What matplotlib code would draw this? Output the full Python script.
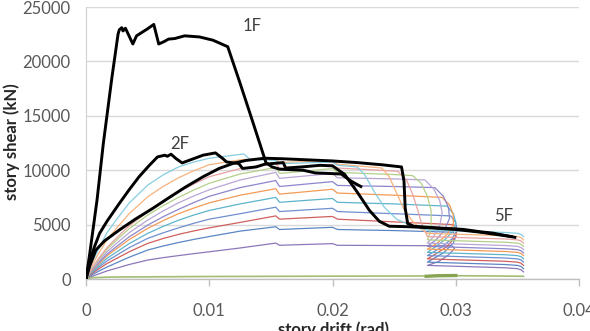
import matplotlib
matplotlib.use("Agg")
import matplotlib.pyplot as plt

plt.rcParams['font.family'] = ['Lato', 'DejaVu Sans']

# ---- axis ticks ----
x_ticks = [0, 0.01, 0.02, 0.03, 0.04]
x_tick_labels = ['0', '0.01', '0.02', '0.03', '0.04']
y_ticks = [0, 5000, 10000, 15000, 20000, 25000]
y_tick_labels = ['0', '5000', '10000', '15000', '20000', '25000']

# ---- highlighted floors (black) ----
drift_1F = [0, 0.0003, 0.0009, 0.0014, 0.0021, 0.0026, 0.0027, 0.0029, 0.0030, 0.0032, 0.0038, 0.0041,
            0.0050, 0.0055, 0.0059, 0.0063, 0.0067, 0.0072, 0.0080, 0.0092, 0.0103, 0.0115,
            0.0125, 0.0136, 0.0146, 0.0151, 0.0157, 0.0166, 0.0176, 0.0186, 0.0197, 0.0207,
            0.0215, 0.0223]
shear_1F = [0, 2300, 7300, 12400, 18500, 22500, 22900, 23100, 22800, 23050, 21600, 22350,
            23000, 23400, 21600, 21800, 22050, 22100, 22350, 22250, 21950, 21350,
            18000, 14200, 10700, 10300, 10100, 10050, 10000, 9750, 9700, 9650,
            9000, 8500]

drift_2F = [0, 0.0002, 0.0004, 0.0007, 0.0011, 0.0017, 0.0027, 0.0035, 0.0043, 0.0051, 0.0058,
            0.0064, 0.0066, 0.0069, 0.0073, 0.0078,
            0.0084, 0.0095, 0.0105, 0.0111, 0.0114, 0.0124, 0.0127, 0.0138, 0.0145, 0.0160,
            0.0162, 0.0175, 0.0190, 0.0200, 0.0210, 0.0220, 0.0230, 0.0238, 0.0246, 0.0263,
            0.0280, 0.0300, 0.0320, 0.0345]
shear_2F = [0, 1100, 2000, 3000, 4190, 5300, 6940, 8200, 9390, 10400, 11220,
            11380, 11280, 11470, 11070, 10670,
            10920, 11380, 11590, 11070, 10760, 10610, 10160, 10300, 10550, 10700,
            10200, 10300, 10450, 10400, 9600, 8000, 6300, 5300, 4850, 4800,
            4700, 4550, 4300, 3900]

drift_5F = [0, 0.0003, 0.0008, 0.0015, 0.0027, 0.0040, 0.0054, 0.0067, 0.0081, 0.0095, 0.0108,
            0.0120, 0.0130, 0.0145, 0.0160, 0.0180,
            0.0200, 0.0220, 0.0240, 0.0256, 0.0258, 0.0259, 0.0261, 0.0266, 0.0279, 0.0306,
            0.0320, 0.0330, 0.0348]
shear_5F = [0, 1200, 2660, 3500, 4500, 5500, 6480, 7450, 8470, 9400, 10160,
            10650, 10900, 11100, 11050, 10950,
            10850, 10700, 10500, 10300, 9000, 6500, 5100, 4850, 4740, 4560,
            4340, 4220, 3830]

# ---- other floors (thin coloured lines) ----
# common loading branch drifts, then each curve's own tail (steps, unloading fan, residual branch)
rise_x = [0, 0.0005, 0.001, 0.0017, 0.0025, 0.0035, 0.005, 0.00625, 0.0075, 0.00875, 0.01, 0.0125,
          0.0154, 0.0157, 0.0200, 0.0204]

c1_rise = [0, 250, 450, 740, 1000, 1330, 1740, 1960, 2150, 2330, 2500, 2850, 3300, 3100, 3250, 3100]
c1_tail_x = [0.0297, 0.0299, 0.0294, 0.0286, 0.0277, 0.0285, 0.0300, 0.0320, 0.0340, 0.0350, 0.0353, 0.0355]
c1_tail_y = [3050, 2800, 2200, 1600, 1250, 1220, 1170, 1100, 1030, 950, 850, 650]

c2_rise = [0, 390, 700, 1100, 1500, 2000, 2660, 3030, 3350, 3640, 3900, 4400, 4800, 4550, 4750, 4550]
c2_tail_x = [0.0250, 0.0298, 0.0300, 0.0298, 0.0290, 0.0277, 0.0285, 0.0300, 0.0320, 0.0340, 0.0350, 0.0353, 0.0355]
c2_tail_y = [4450, 4300, 3900, 3300, 2400, 1550, 1520, 1470, 1400, 1330, 1250, 1150, 950]

c3_rise = [0, 500, 900, 1420, 1900, 2500, 3270, 3720, 4100, 4420, 4700, 5200, 5800, 5500, 5750, 5500]
c3_tail_x = [0.0250, 0.0298, 0.0301, 0.0300, 0.0293, 0.0285, 0.0277, 0.0285, 0.0300, 0.0320, 0.0340, 0.0350, 0.0353, 0.0355]
c3_tail_y = [5250, 5000, 4500, 3900, 3000, 2400, 1850, 1820, 1770, 1700, 1630, 1550, 1450, 1250]

c4_rise = [0, 590, 1050, 1660, 2200, 2880, 3730, 4240, 4700, 5120, 5500, 6000, 6600, 6200, 6500, 6200]
c4_tail_x = [0.0250, 0.0296, 0.0300, 0.0301, 0.0297, 0.0288, 0.0277, 0.0285, 0.0300, 0.0320, 0.0340, 0.0350, 0.0353, 0.0355]
c4_tail_y = [6000, 5800, 5200, 4500, 3700, 2900, 2150, 2120, 2070, 2000, 1930, 1850, 1750, 1550]

c5_rise = [0, 670, 1200, 1900, 2500, 3250, 4190, 4830, 5400, 5880, 6300, 6900, 7500, 7050, 7400, 7050]
c5_tail_x = [0.0250, 0.0293, 0.0298, 0.0300, 0.0298, 0.0291, 0.0284, 0.0277, 0.0285, 0.0300, 0.0320, 0.0340, 0.0350, 0.0353, 0.0355]
c5_tail_y = [6900, 6700, 6000, 5200, 4400, 3600, 3000, 2450, 2420, 2370, 2300, 2230, 2150, 2050, 1850]

c6_rise = [0, 760, 1350, 2130, 2800, 3620, 4650, 5360, 6000, 6520, 7000, 7700, 8300, 7800, 8250, 7900]
c6_tail_x = [0.0250, 0.0289, 0.0295, 0.0298, 0.0298, 0.0293, 0.0285, 0.0277, 0.0285, 0.0300, 0.0320, 0.0340, 0.0350, 0.0353, 0.0355]
c6_tail_y = [7700, 7500, 6800, 5900, 5000, 4100, 3300, 2750, 2720, 2670, 2600, 2530, 2450, 2350, 2150]

c7_rise = [0, 820, 1450, 2280, 3000, 3870, 4950, 5720, 6400, 7030, 7600, 8400, 9050, 8500, 8950, 8600]
c7_tail_x = [0.0250, 0.0283, 0.0290, 0.0294, 0.0295, 0.0291, 0.0284, 0.0277, 0.0285, 0.0300, 0.0320, 0.0340, 0.0350, 0.0353, 0.0355]
c7_tail_y = [8500, 8400, 7600, 6600, 5600, 4500, 3600, 3000, 2970, 2920, 2850, 2780, 2700, 2600, 2400]

c8_rise = [0, 900, 1600, 2500, 3300, 4250, 5410, 6250, 7000, 7630, 8200, 9100, 9800, 9250, 9700, 9300]
c8_tail_x = [0.0250, 0.0275, 0.0282, 0.0287, 0.0289, 0.0287, 0.0282, 0.0277, 0.0285, 0.0300, 0.0320, 0.0340, 0.0350, 0.0353, 0.0355]
c8_tail_y = [9200, 9100, 8300, 7200, 6100, 4900, 3900, 3300, 3270, 3220, 3150, 3080, 3000, 2900, 2700]

c9_rise = [0, 990, 1750, 2730, 3600, 4620, 5870, 6740, 7500, 8180, 8800, 9650, 10250, 9700, 10150, 9800]
c9_tail_x = [0.0250, 0.0265, 0.0272, 0.0277, 0.0280, 0.0280, 0.0279, 0.0277, 0.0285, 0.0300, 0.0320, 0.0340, 0.0350, 0.0353, 0.0355]
c9_tail_y = [9600, 9500, 8800, 7600, 6300, 5100, 4200, 3600, 3570, 3520, 3450, 3380, 3300, 3200, 3000]

c10_rise = [0, 1050, 1850, 2880, 3800, 4880, 6170, 7150, 8000, 8730, 9400, 10150, 10650, 10150, 10500, 10200]
c10_tail_x = [0.0230, 0.0253, 0.0260, 0.0265, 0.0269, 0.0272, 0.0275, 0.0277, 0.0285, 0.0300, 0.0320, 0.0340, 0.0350, 0.0353, 0.0355]
c10_tail_y = [10050, 9900, 9100, 7800, 6400, 5200, 4400, 3900, 3870, 3820, 3750, 3680, 3600, 3500, 3300]

c11_rise = [0, 1300, 2300, 3580, 4700, 6000, 7550, 8500, 9300, 9950, 10500, 10950, 11100, 10700, 10900, 10550]
c11_tail_x = [0.0225, 0.0240, 0.0246, 0.0252, 0.0258, 0.0265, 0.0272, 0.0277, 0.0285, 0.0300, 0.0320, 0.0340, 0.0350, 0.0353, 0.0355]
c11_tail_y = [10350, 10200, 9400, 7900, 6400, 5300, 4600, 4200, 4170, 4120, 4050, 3980, 3900, 3800, 3600]

# top thin curve has its own peak near 0.0128 before the first step
c12_x = [0, 0.0005, 0.001, 0.0017, 0.0025, 0.0035, 0.005, 0.00625, 0.0075, 0.00875, 0.01, 0.0125,
         0.0128, 0.0133, 0.0154, 0.0157, 0.0200, 0.0204,
         0.0220, 0.0226, 0.0234, 0.0242, 0.0252, 0.0264, 0.0277, 0.0285, 0.0300, 0.0320, 0.0340,
         0.0350, 0.0353, 0.0355]
c12_y = [0, 1550, 2700, 4250, 5500, 6980, 8620, 9560, 10300, 10750, 11100, 11450,
         11500, 11000, 10900, 10600, 10750, 10450,
         10300, 9600, 8000, 6600, 5500, 4900, 4500, 4470, 4420, 4350, 4280,
         4200, 4100, 3900]

# roof-level curve close to zero
roof_x = [0, 0.0005, 0.002, 0.01, 0.02, 0.0276, 0.0300, 0.0330, 0.0355]
roof_y = [0, 120, 180, 230, 260, 280, 300, 280, 250]
roof_loop_x = [0.0276, 0.0285, 0.0300]
roof_loop_y = [250, 300, 320]

thin = [
    (rise_x + c1_tail_x, c1_rise + c1_tail_y, '#8B78B8'),
    (rise_x + c2_tail_x, c2_rise + c2_tail_y, '#5B86C4'),
    (rise_x + c3_tail_x, c3_rise + c3_tail_y, '#D0605C'),
    (rise_x + c4_tail_x, c4_rise + c4_tail_y, '#6F8FCF'),
    (rise_x + c5_tail_x, c5_rise + c5_tail_y, '#5DB4CC'),
    (rise_x + c6_tail_x, c6_rise + c6_tail_y, '#F39A55'),
    (rise_x + c7_tail_x, c7_rise + c7_tail_y, '#8C86CC'),
    (rise_x + c8_tail_x, c8_rise + c8_tail_y, '#B8A6D6'),
    (rise_x + c9_tail_x, c9_rise + c9_tail_y, '#B4CF8A'),
    (rise_x + c10_tail_x, c10_rise + c10_tail_y, '#E8A3A2'),
    (rise_x + c11_tail_x, c11_rise + c11_tail_y, '#F7B37E'),
    (c12_x, c12_y, '#86CDE0'),
]

fig = plt.figure(figsize=(5.9, 3.31), dpi=100)
ax = fig.add_axes([86 / 590, 1 - 279 / 331, (579 - 86) / 590, (279 - 7) / 331])

for xs, ys, col in thin:
    ax.plot(xs, ys, color=col, lw=0.9, zorder=2)

ax.plot(roof_x, roof_y, color='#A4BD74', lw=1.2, zorder=2)
ax.plot(roof_loop_x, roof_loop_y, color='#86A452', lw=2.4, zorder=2)

for xs, ys in [(drift_5F, shear_5F), (drift_2F, shear_2F), (drift_1F, shear_1F)]:
    ax.plot(xs, ys, color='black', lw=2.1, zorder=3, solid_joinstyle='round')

ax.text(0.01345, 23230, '1F', fontsize=12, color='#404040', ha='center', va='center')
ax.text(0.0076, 12450, '2F', fontsize=12, color='#404040', ha='center', va='center')
ax.text(0.0339, 5780, '5F', fontsize=12, color='#404040', ha='center', va='center')

ax.set_xlim(0, 0.04)
ax.set_ylim(0, 25000)
ax.set_xticks(x_ticks)
ax.set_xticklabels(x_tick_labels)
ax.set_yticks(y_ticks)
ax.set_yticklabels(y_tick_labels)
ax.grid(axis='y', color='#D9D9D9', lw=1.0)
ax.set_axisbelow(True)

for side in ['top', 'right']:
    ax.spines[side].set_visible(False)
ax.spines['left'].set_color('#D0D0D0')
ax.spines['bottom'].set_color('#BFBFBF')
ax.spines['bottom'].set_linewidth(1.0)
ax.tick_params(axis='y', length=0, pad=11, labelsize=12, labelcolor='#595959')
ax.tick_params(axis='x', length=5, width=1, color='#BFBFBF', direction='out',
               pad=12, labelsize=12, labelcolor='#595959')

fig.text(11.5 / 590, 1 - 142 / 331, 'story shear (kN)', rotation=90, ha='center', va='center',
         fontsize=12, fontweight='bold', color='#262626')
fig.text(333 / 590, 1 - 321 / 331, 'story drift (rad)', ha='center', va='top',
         fontsize=12, fontweight='bold', color='#262626')

fig.savefig('out.png', dpi=100)
